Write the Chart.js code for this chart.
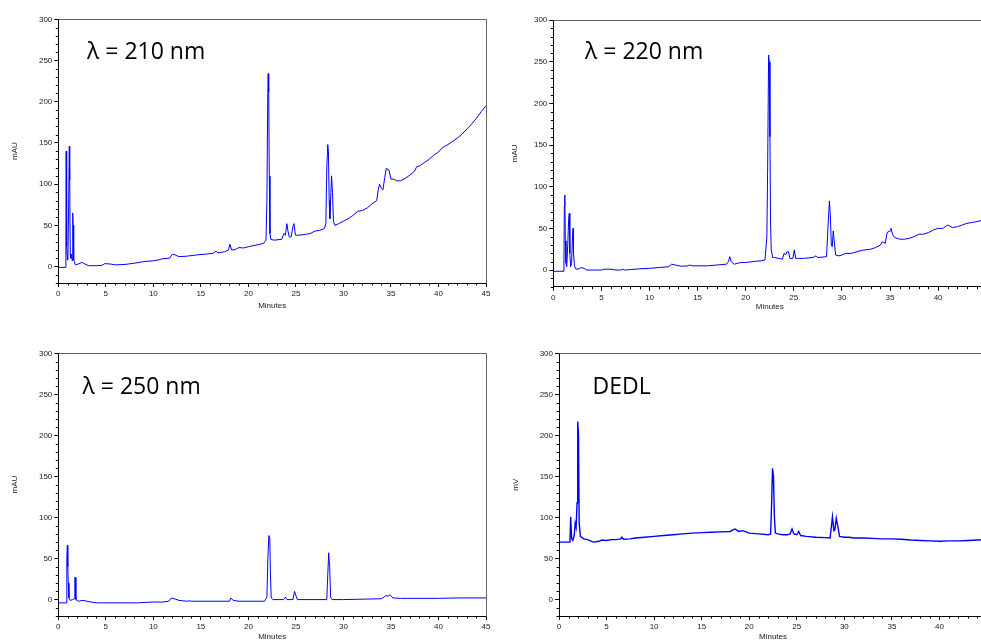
<!DOCTYPE html>
<html>
<head>
<meta charset="utf-8">
<script src="https://cdn.jsdelivr.net/npm/chart.js@4.4.1/dist/chart.umd.min.js"></script>
<style>
  html, body { margin: 0; padding: 0; background: #fff; overflow: hidden; width: 981px; height: 642px; }
  .panel { position: absolute; }
</style>
</head>
<body>
<div class="panel" style="left:0;top:0"><canvas id="c210" width="500" height="320"></canvas></div>
<div class="panel" style="left:500px;top:0"><canvas id="c220" width="500" height="320"></canvas></div>
<div class="panel" style="left:0;top:330px"><canvas id="c250" width="500" height="312"></canvas></div>
<div class="panel" style="left:500px;top:330px"><canvas id="cdedl" width="500" height="312"></canvas></div>
<script>
// tick values shared by all four chromatograms
const xTickValues = [0, 5, 10, 15, 20, 25, 30, 35, 40, 45];
const yTickValues = [0, 50, 100, 150, 200, 250, 300];

const panelLabels = ['λ = 210 nm', 'λ = 220 nm', 'λ = 250 nm', 'DEDL'];
const yTitles = ['mAU', 'mAU', 'mAU', 'mV'];

// 210 nm trace (minutes / mAU)
const time210 = [
  0, 0.75, 0.8, 0.83, 0.86, 0.9, 0.96, 1.02, 1.1, 1.16,
  1.2, 1.26, 1.32, 1.4, 1.46, 1.52, 1.56, 1.62, 1.7, 1.8,
  2.1, 2.5, 2.8, 3.2, 4.0, 4.6, 4.9, 5.5, 6.0, 7.0,
  8.0, 9.0, 10.0, 10.5, 11.0, 11.7, 12.0, 12.3, 12.7, 13.5,
  14.5, 15.5, 16.3, 16.6, 16.8, 17.5, 17.9, 18.05, 18.25, 18.6,
  19.0, 19.5, 20.0, 21.0, 21.6, 21.85, 21.95, 22.03, 22.08, 22.14,
  22.2, 22.27, 22.35, 22.7, 23.5, 23.75, 23.9, 24.05, 24.15, 24.3,
  24.5, 24.7, 24.8, 24.95, 25.3, 26.0, 26.5, 27.0, 27.5, 28.0,
  28.15, 28.25, 28.35, 28.42, 28.5, 28.58, 28.68, 28.75, 28.85, 28.95,
  29.1, 29.5, 30.0, 30.5, 31.0, 31.5, 32.0, 32.5, 33.0, 33.5,
  33.65, 33.8, 34.0, 34.15, 34.35, 34.5, 34.8, 35.0, 35.3, 35.6,
  36.0, 36.5, 37.0, 37.5, 37.7, 38.0, 38.5, 39.0, 39.5, 40.0,
  40.5, 41.0, 41.5, 42.0, 42.5, 43.0, 43.5, 44.0, 44.5, 45.0
];
const abs210 = [
  -1, -1, 30, 140, 118, 25, 8, 20, 85, 146,
  105, 15, 10, 15, 7, 65, 50, 8, 6, 2,
  3, 5, 3, 1, 1, 1.5, 3.5, 3, 2, 2.5,
  4, 6, 7, 8, 9.5, 10, 15, 14, 12, 12.5,
  14, 15, 16, 18.5, 16.5, 18, 20, 27, 20, 20.5,
  23, 22.5, 24, 26.5, 28, 32, 80, 200, 234, 212,
  110, 40, 33, 32, 33, 40, 38, 52, 44, 36,
  36, 49, 52, 38, 38, 39, 40, 43, 44, 46,
  52, 120, 148, 140, 80, 58, 90, 110, 90, 55,
  50, 52, 55, 58, 62, 67, 68, 71, 76, 80,
  92, 100, 95, 93, 108, 119, 117, 106, 106, 104,
  104, 107, 111, 116, 121, 122, 126, 130, 135, 139,
  145, 148, 152, 156, 161, 167, 173, 180, 188, 195
];

// 220 nm trace
const time220 = [
  0, 1.1, 1.15, 1.2, 1.25, 1.32, 1.4, 1.5, 1.6, 1.66,
  1.72, 1.8, 1.9, 1.98, 2.05, 2.1, 2.2, 2.35, 2.7, 2.9,
  3.2, 3.5, 5.0, 5.3, 6.0, 6.5, 7.0, 7.2, 7.4, 8.0,
  9.0, 10.0, 11.0, 12.0, 12.3, 12.7, 13.3, 14.0, 14.2, 14.5,
  16.0, 17.0, 18.0, 18.2, 18.35, 18.5, 18.8, 19.5, 20.0, 21.0,
  21.6, 22.0, 22.2, 22.28, 22.38, 22.44, 22.52, 22.58, 22.65, 22.8,
  23.0, 23.8, 24.0, 24.15, 24.3, 24.45, 24.6, 24.9, 25.05, 25.2,
  25.5, 26.0, 27.0, 27.3, 27.5, 28.4, 28.55, 28.7, 28.8, 28.9,
  29.0, 29.1, 29.2, 29.35, 29.7, 30.0, 30.4, 31.0, 32.0, 33.0,
  33.5, 34.0, 34.2, 34.5, 34.7, 35.0, 35.1, 35.3, 35.5, 36.0,
  36.5, 37.0, 37.5, 38.0, 38.5, 39.0, 39.5, 40.0, 40.5, 41.0,
  41.5, 42.0, 42.5, 43.0, 43.5, 44.0, 45.0
];
const abs220 = [
  -1.5, -1.5, 77, 90, 35, 8, 4, 30, 62, 68,
  20, 4, 8, 35, 50, 20, 5, 1, 1.5, 3,
  2, 0, 0, 1, 1, 0, 0, 1, 0, 0.5,
  1.5, 2, 3, 4, 7, 6, 4.5, 5, 6, 5,
  5, 6, 7, 10, 16, 10, 7, 9, 9, 10.5,
  11, 12, 40, 120, 258, 250, 160, 60, 25, 15,
  15, 13, 20, 18, 22, 22, 14, 14, 24, 14,
  14, 14, 15, 17, 15, 16, 50, 83, 65, 30,
  28, 47, 35, 18, 17, 18, 20, 20, 23.5, 25,
  27, 30, 34, 32, 45, 47, 50, 42, 39, 37,
  37, 38, 40, 43, 43, 45, 48, 50, 50, 54,
  51, 52, 54, 56, 57, 58, 61
];

// 250 nm trace
const time250 = [
  0, 0.85, 0.9, 0.95, 1.0, 1.05, 1.12, 1.25, 1.5, 1.7,
  1.74, 1.8, 1.85, 2.1, 2.6, 3.0, 4.0, 5.0, 7.0, 8.3,
  9.0, 10.0, 11.0, 11.6, 11.9, 12.2, 12.7, 13.5, 13.8, 14.0,
  18.0, 18.15, 18.4, 19.0, 21.7, 21.95, 22.05, 22.15, 22.25, 22.32,
  22.4, 22.6, 23.7, 23.9, 24.05, 24.7, 24.85, 25.0, 25.15, 28.25,
  28.35, 28.45, 28.55, 28.65, 28.8, 30.0, 34.0, 34.5, 34.7, 34.9,
  35.2, 36.0, 40.0, 42.0, 45.0
];
const abs250 = [
  -4, -4, 50, 66, 40, 20, 2, -1, 0, 1,
  27, 27, 0, -2, -1, -2, -4, -4, -4, -4,
  -3.5, -3, -3, -2, 2, 1, -1, -2, -1.5, -2,
  -2, 2, -1, -2, -2, 3, 50, 78, 75, 30,
  2, 0, 0, 3, 0, 0, 10, 5, 0, 0,
  30, 57, 40, 3, 0, 0, 1, 5, 4, 6,
  2, 1.5, 1.5, 2, 2
];

// DEDL trace (minutes / mV)
const timeDedl = [
  0, 1.15, 1.23, 1.33, 1.45, 1.6, 1.7, 1.8, 1.9, 1.97,
  2.05, 2.12, 2.25, 2.6, 3.0, 3.6, 4.2, 4.5, 5.0, 5.5,
  6.0, 6.5, 6.6, 6.8, 7.5, 8.0, 9.0, 10.0, 11.0, 12.0,
  13.0, 14.0, 15.0, 16.0, 17.0, 18.0, 18.5, 18.9, 19.3, 20.0,
  21.0, 22.0, 22.25, 22.35, 22.45, 22.55, 22.65, 22.75, 23.0, 23.5,
  24.0, 24.3, 24.5, 24.7, 25.0, 25.2, 25.4, 26.0, 27.0, 28.0,
  28.5, 28.65, 28.75, 28.9, 29.0, 29.15, 29.3, 29.5, 30.0, 30.5,
  31.0, 32.0, 33.0, 34.0, 35.0, 36.0, 37.0, 38.0, 39.0, 40.0,
  41.0, 42.0, 43.0, 44.0, 45.0
];
const signalDedl = [
  70, 70, 101, 74, 72, 78, 93, 88, 118, 217,
  200, 94, 77, 74, 73, 70, 71, 72.5, 72, 73,
  73, 74, 76, 73.5, 74, 75, 76, 77, 78, 79,
  80, 81, 81.5, 82, 82.5, 83, 86, 83, 84, 81,
  80, 79, 80, 115, 160, 150, 100, 81, 80, 79,
  79, 80, 86, 80, 79, 83, 78, 77, 76, 75.5,
  75, 90, 101, 84, 85, 99, 90, 77, 76, 76,
  75, 75, 74.5, 74, 74, 73.5, 72.5, 72, 71.5, 71,
  71.5, 71.5, 72, 72.5, 73
];

const tickFont = { family: 'Liberation Sans, Arial, sans-serif', size: 8 };

// gray frame on top/right, small minor ticks, and the big panel label
const decorations = {
  id: 'decorations',
  afterDraw(chart, args, opts) {
    const { ctx, chartArea: a, scales } = chart;
    ctx.save();
    ctx.lineWidth = 1;
    ctx.strokeStyle = '#666';
    ctx.beginPath();
    ctx.moveTo(Math.round(a.left) + 0.5, Math.round(a.top) + 0.5);
    ctx.lineTo(Math.round(a.right) + 0.5, Math.round(a.top) + 0.5);
    ctx.lineTo(Math.round(a.right) + 0.5, Math.round(a.bottom) + 0.5);
    ctx.stroke();

    ctx.strokeStyle = '#000';
    ctx.beginPath();
    for (let v = 0; v <= scales.x.max; v += 1) {
      if (v % 5 === 0) continue;
      const px = Math.round(scales.x.getPixelForValue(v)) + 0.5;
      ctx.moveTo(px, a.bottom);
      ctx.lineTo(px, a.bottom + 2.5);
    }
    for (let v = -20; v <= 300; v += 10) {
      if (v % 50 === 0) continue;
      const py = Math.round(scales.y.getPixelForValue(v)) + 0.5;
      ctx.moveTo(a.left, py);
      ctx.lineTo(a.left - 2.5, py);
    }
    ctx.stroke();

    ctx.fillStyle = '#000';
    ctx.font = '23px "Open Sans"';
    ctx.textBaseline = 'alphabetic';
    ctx.fillText(opts.text, opts.x, opts.y);
    ctx.restore();
  }
};

function makeChart(id, times, values, cfg) {
  const canvas = document.getElementById(id);
  const W = canvas.width, H = canvas.height;
  const points = times.map((t, i) => ({ x: t, y: values[i] }));

  return new Chart(canvas, {
    type: 'line',
    data: {
      datasets: [{
        data: points,
        borderColor: '#0000ff',
        borderWidth: cfg.lineWidth || 1,
        pointRadius: 0,
        tension: 0,
        fill: false
      }]
    },
    options: {
      responsive: false,
      animation: false,
      events: [],
      layout: { padding: { left: 0, top: cfg.area.top, right: W - cfg.area.right, bottom: 0 } },
      plugins: {
        legend: { display: false },
        tooltip: { enabled: false },
        decorations: { text: cfg.label, x: cfg.labelX, y: cfg.labelY }
      },
      scales: {
        x: {
          type: 'linear',
          min: 0,
          max: 45,
          afterFit: (s) => { s.height = H - cfg.area.bottom; },
          afterBuildTicks: (s) => { s.ticks = xTickValues.map(v => ({ value: v })); },
          ticks: { autoSkip: false, maxRotation: 0, padding: 2, color: '#222', font: tickFont },
          grid: { drawOnChartArea: false, tickLength: 4, tickColor: '#000' },
          border: { color: '#000', width: 1 },
          title: { display: true, text: 'Minutes', color: '#222', font: tickFont,
                   padding: { top: 0, bottom: cfg.xTitlePad } }
        },
        y: {
          min: -20,
          max: 300,
          afterFit: (s) => { s.width = cfg.area.left; },
          afterBuildTicks: (s) => { s.ticks = yTickValues.map(v => ({ value: v })); },
          ticks: { padding: 2, color: '#222', font: tickFont },
          grid: { drawOnChartArea: false, tickLength: 4, tickColor: '#000' },
          border: { color: '#000', width: 1 },
          title: { display: true, text: cfg.yTitle, color: '#222', font: tickFont,
                   padding: { top: cfg.yTitlePad, bottom: 0 } }
        }
      }
    },
    plugins: [decorations]
  });
}

makeChart('c210', time210, abs210, {
  area: { left: 58.3, top: 19.3, right: 486, bottom: 283 },
  label: panelLabels[0], labelX: 87, labelY: 59,
  yTitle: yTitles[0], yTitlePad: 10, xTitlePad: 9.5
});
makeChart('c220', time220, abs220, {
  area: { left: 53.3, top: 20, right: 486.2, bottom: 286.7 },
  label: panelLabels[1], labelX: 85, labelY: 59,
  yTitle: yTitles[1], yTitlePad: 10, xTitlePad: 8
});
makeChart('c250', time250, abs250, {
  area: { left: 58.3, top: 23.3, right: 486, bottom: 286 },
  label: panelLabels[2], labelX: 82.5, labelY: 64,
  yTitle: yTitles[2], yTitlePad: 10, xTitlePad: 0
});
makeChart('cdedl', timeDedl, signalDedl, {
  area: { left: 59, top: 23.3, right: 487, bottom: 286 },
  label: panelLabels[3], labelX: 92.5, labelY: 64,
  yTitle: yTitles[3], yTitlePad: 11, xTitlePad: 0, lineWidth: 1.4
});
</script>
</body>
</html>
